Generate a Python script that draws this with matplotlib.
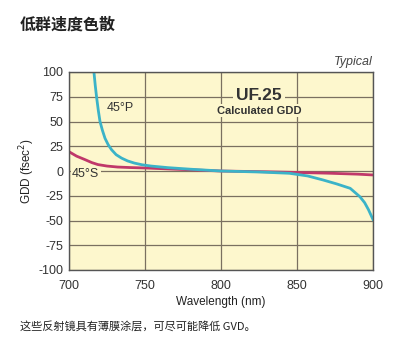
import numpy as np
import matplotlib
matplotlib.use('Agg')
import matplotlib.pyplot as plt

plt.rcParams['font.family'] = ['Liberation Sans', 'Noto Sans CJK SC']
plt.rcParams['axes.unicode_minus'] = False

# 45°P curve
wl_p = [716.4, 717.3, 718.2, 719.3, 720.4, 722, 723.7, 725.8, 728, 731, 734.6,
        738.5, 743, 748, 754, 765, 780, 800, 825, 845, 857, 867, 876, 885,
        891.4, 894.5, 897, 900]
gdd_p = [100, 86, 74, 61, 50, 41, 33, 26.5, 21.5, 16.5, 13,
         10.2, 8, 6.3, 5, 3.4, 1.8, 0, -1, -2.3, -5, -9, -13, -17.5,
         -26, -32, -39, -49]

# 45°S curve
wl_s = [700, 705, 710.5, 715, 719, 725, 732, 740, 751, 770, 800, 830, 845,
        870, 890, 900]
gdd_s = [19.5, 15, 11.5, 8.5, 6.5, 5, 4, 3.5, 3, 1.8, 0, -0.8, -1.3,
         -2.2, -3.2, -4]

xticks = [700, 750, 800, 850, 900]
yticks = [-100, -75, -50, -25, 0, 25, 50, 75, 100]

fig = plt.figure(figsize=(3.93, 3.47), dpi=100)
ax = fig.add_axes([69/393, 1 - 270/347, 304/393, 198/347])
ax.set_facecolor('#fdf7cd')

ax.set_xlim(700, 900)
ax.set_ylim(-100, 100)
ax.set_xticks(xticks)
ax.set_yticks(yticks)
ax.tick_params(axis='y', length=0, labelsize=9, colors='#333333', pad=4)
ax.tick_params(axis='x', length=0, labelsize=9, colors='#333333', pad=7)
ax.grid(True, color='#7a7060', lw=0.9)
ax.set_axisbelow(True)
for s in ax.spines.values():
    s.set_color('#555555')
    s.set_linewidth(1.0)

ax.plot(wl_s, gdd_s, color='#c0386a', lw=2)
ax.plot(wl_p, gdd_p, color='#3bb3c8', lw=2)

ax.set_xlabel('Wavelength (nm)', fontsize=8.5, color='#222222', labelpad=3)
ax.set_ylabel('GDD (fsec$^2$)', fontsize=8.5, color='#222222', labelpad=1)

ax.text(734, 64, '45°P', fontsize=9, color='#333333', ha='center', va='center',
        bbox=dict(facecolor='#fdf7cd', edgecolor='none', pad=1))
ax.text(711, -3, '45°S', fontsize=9, color='#333333', ha='center', va='center',
        bbox=dict(facecolor='#fdf7cd', edgecolor='none', pad=1))
ax.text(825, 76, 'UF.25', fontsize=12.5, fontweight='bold', color='#333333',
        ha='center', va='center',
        bbox=dict(facecolor='#fdf7cd', edgecolor='none', pad=2))
ax.text(825, 61, 'Calculated GDD', fontsize=8, fontweight='bold',
        color='#333333', ha='center', va='center',
        bbox=dict(facecolor='#fdf7cd', edgecolor='none', pad=1))
ax.text(1.0, 1.02, 'Typical', transform=ax.transAxes, fontsize=9,
        style='italic', color='#444444', ha='right', va='bottom')

fig.text(20/393, 1 - 25/347, '低群速度色散', fontsize=11.5, fontweight='bold',
         family=['Noto Sans CJK SC'], color='#222222', va='center')
fig.text(20/393, 1 - 327/347, '这些反射镜具有薄膜涂层，可尽可能降低 GVD。', fontsize=8,
         family=['Noto Sans CJK SC', 'DejaVu Sans'], color='#222222', va='center')

fig.savefig('out.png', dpi=100)
